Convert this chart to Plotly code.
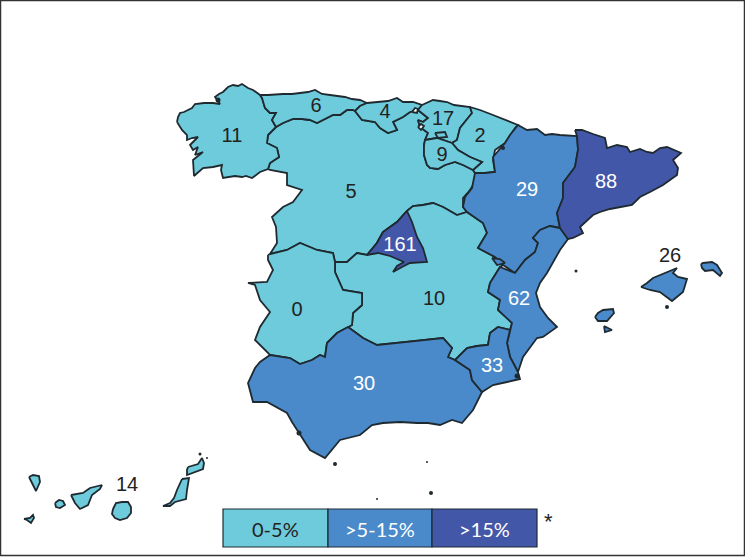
import plotly.graph_objects as go

LIGHT, MID, DARK = "#6ECBDC", "#4A8ACB", "#4357A9"
INK = "#1F2A30"

# Region outlines (x, y in image units)
galicia = [(177,122),(178,117),(180,113),(184,112),(188,110),(192,108),(195,104),(204,103),(213,103),(220,104),(215,97),(219,94),(223,92),(228,87),(233,85),(238,86),(242,84),(248,88),(253,90),(260,95),(262,98),(265,108),(270,113),(276,113),(272,120),(276,127),(268,135),(267,143),(277,148),(279,157),(270,163),(268,169),(260,172),(252,178),(246,176),(242,177),(235,176),(230,177),(223,178),(221,170),(222,165),(213,167),(203,168),(194,176),(193,160),(203,152),(195,155),(198,147),(193,150),(190,145),(198,137),(192,138),(187,140),(187,135),(182,130)]
asturias = [(260,95),(268,95),(283,94),(292,94),(300,93),(308,92),(315,90),(322,94),(330,95),(337,96),(345,97),(352,99),(360,100),(367,103),(360,106),(355,111),(353,110),(347,110),(340,115),(333,115),(327,118),(317,123),(310,120),(302,119),(293,119),(283,123),(276,127),(272,120),(276,113),(270,113),(265,108),(262,98)]
cantabria = [(367,103),(380,102),(388,101),(397,98),(403,102),(413,102),(422,105),(418,110),(410,112),(403,117),(393,122),(397,130),(388,133),(380,128),(375,122),(362,120),(355,111),(360,106)]
basque = [(422,105),(427,103),(433,100),(440,101),(447,102),(454,105),(460,106),(470,107),(472,113),(468,118),(460,128),(457,140),(452,143),(437,138),(425,140),(428,133),(420,127),(418,120),(423,122),(428,118),(418,110)]
navarra = [(470,107),(480,110),(493,115),(505,120),(518,125),(515,128),(510,135),(505,143),(495,150),(493,160),(495,172),(485,173),(475,173),(473,170),(482,162),(470,157),(458,150),(452,143),(457,140),(460,128),(468,118),(472,113)]
rioja = [(425,140),(437,138),(452,143),(458,150),(470,157),(482,162),(473,170),(463,165),(455,162),(445,165),(438,169),(430,168),(427,165),(424,155),(424,145)]
castilla_leon = [(276,127),(283,123),(293,119),(302,119),(310,120),(317,123),(327,118),(333,115),(340,115),(347,110),(353,110),(355,111),(362,120),(375,122),(380,128),(388,133),(397,130),(393,122),(403,117),(410,112),(418,110),(428,118),(423,122),(418,120),(420,127),(428,133),(425,140),(424,145),(424,155),(427,165),(430,168),(438,169),(445,165),(455,162),(463,165),(473,170),(475,173),(475,182),(470,190),(463,198),(463,207),(467,212),(457,215),(443,207),(433,203),(423,205),(413,206),(407,211),(397,222),(383,232),(377,243),(367,255),(357,253),(347,262),(335,262),(333,253),(317,250),(300,243),(287,250),(270,254),(277,243),(276,227),(272,217),(283,207),(293,202),(302,190),(287,185),(287,173),(270,170),(268,169),(270,163),(279,157),(277,148),(267,143),(268,135)]
madrid = [(407,211),(412,222),(417,237),(423,248),(427,262),(410,263),(402,267),(393,272),(397,266),(404,262),(390,256),(378,253),(367,255),(377,243),(383,232),(397,222)]
aragon = [(518,125),(527,130),(537,129),(545,135),(552,134),(560,135),(577,136),(578,150),(575,167),(563,183),(563,198),(557,213),(560,228),(550,226),(540,230),(533,238),(538,243),(535,252),(525,260),(515,273),(503,265),(495,257),(478,248),(487,233),(483,223),(467,212),(463,207),(465,197),(472,188),(475,173),(485,173),(495,172),(493,157),(505,143),(510,135)]
valencia = [(560,228),(568,239),(560,250),(553,262),(547,273),(540,283),(536,293),(540,307),(548,318),(557,327),(543,337),(537,338),(530,347),(523,357),(518,372),(510,357),(507,343),(510,330),(512,323),(498,310),(500,300),(488,292),(490,283),(500,267),(515,273),(525,260),(535,252),(538,243),(533,238),(540,230),(550,226)]
catalonia = [(575,130),(582,130),(593,134),(605,138),(607,148),(617,145),(627,147),(630,152),(640,149),(647,152),(653,153),(660,148),(667,147),(675,150),(681,153),(673,160),(678,168),(677,175),(663,185),(650,192),(640,197),(632,205),(620,207),(610,209),(600,212),(593,215),(580,227),(583,233),(573,238),(568,239),(560,228),(557,213),(563,198),(563,183),(575,167),(578,150),(577,136)]
extremadura = [(268,255),(270,254),(287,250),(300,243),(317,250),(333,253),(335,262),(335,272),(343,290),(362,293),(362,305),(353,313),(352,325),(348,327),(337,333),(327,343),(325,357),(320,355),(312,360),(300,364),(290,358),(270,355),(255,340),(260,327),(270,312),(260,300),(255,285),(248,283),(267,282),(273,270),(268,260)]
castilla_mancha = [(335,262),(347,262),(357,253),(367,255),(377,243),(383,232),(397,222),(407,211),(413,206),(423,205),(433,203),(443,207),(457,215),(467,212),(483,223),(487,233),(478,248),(495,257),(503,265),(500,267),(490,283),(488,292),(500,300),(498,310),(512,323),(510,330),(498,327),(490,333),(488,345),(477,346),(467,348),(455,360),(448,357),(452,348),(443,338),(427,340),(407,342),(377,345),(363,338),(348,327),(352,325),(353,313),(362,305),(362,293),(343,290),(335,272)]
andalusia = [(348,327),(363,338),(377,345),(407,342),(427,340),(443,338),(452,348),(448,357),(455,360),(470,370),(472,380),(482,392),(473,410),(462,423),(452,420),(440,425),(428,423),(417,423),(400,422),(383,423),(372,425),(360,435),(340,440),(333,448),(325,458),(310,450),(300,435),(292,422),(287,413),(267,402),(253,402),(248,383),(255,368),(260,362),(270,355),(290,358),(300,364),(312,360),(320,355),(325,357),(327,343),(337,333)]
murcia = [(498,327),(510,330),(507,343),(510,357),(518,372),(520,379),(507,382),(493,385),(482,392),(472,380),(470,370),(455,360),(467,348),(477,346),(488,345),(490,333)]
ademuz = [(492,258),(500,259),(505,263),(497,265)]
trevino = [(435,133),(445,132),(447,137),(438,138)]
hole_a = [(412,112),(415,108),(418,109),(417,113)]
hole_b = [(418,127),(421,124),(424,126),(421,130)]
mallorca = [(641,287),(647,283),(653,278),(660,275),(667,272),(677,268),(673,273),(678,277),(687,279),(685,286),(683,292),(672,301),(660,292),(650,290)]
menorca = [(701,264),(703,263),(712,262),(717,265),(722,273),(720,276),(713,270),(705,271),(702,268)]
ibiza = [(595,317),(598,313),(603,310),(613,309),(614,313),(607,321),(598,321)]
formentera = [(604,326),(612,330),(605,332)]
la_palma = [(29,477),(33,475),(39,476),(40,482),(36,491),(32,483)]
gomera = [(55,503),(59,500),(63,501),(65,505),(60,508),(56,507)]
hierro = [(24,519),(30,518),(33,515),(34,518),(31,523),(27,520)]
tenerife = [(71,495),(83,493),(90,488),(102,485),(100,489),(92,495),(88,505),(80,509),(75,503)]
gran_canaria = [(113,509),(116,503),(122,502),(128,502),(131,507),(131,513),(127,518),(120,520),(115,518),(112,514)]
fuerteventura = [(182,479),(189,478),(187,490),(186,499),(175,502),(170,506),(163,506),(170,503),(174,498),(177,490)]
lanzarote = [(188,467),(198,464),(202,458),(204,463),(203,469),(192,473),(187,475),(187,470)]

regions = [
    (castilla_leon, LIGHT), (galicia, LIGHT), (asturias, LIGHT), (cantabria, LIGHT),
    (basque, LIGHT), (navarra, LIGHT), (rioja, LIGHT), (trevino, LIGHT), (castilla_mancha, LIGHT),
    (extremadura, LIGHT), (madrid, DARK), (aragon, MID), (valencia, MID), (ademuz, MID),
    (catalonia, DARK), (andalusia, MID), (murcia, MID), (mallorca, MID),
    (menorca, MID), (ibiza, MID), (formentera, MID), (la_palma, LIGHT), (gomera, LIGHT),
    (hierro, LIGHT), (tenerife, LIGHT), (gran_canaria, LIGHT), (fuerteventura, LIGHT),
    (lanzarote, LIGHT), (hole_a, "white"), (hole_b, "white"),
]

label_text = ["11","6","4","17","2","9","5","29","88","161","26","0","10","62","33","30","14"]
label_x = [232,316,385,443,480,442,351,527,606,400,670,297,434,519,492,364,127]
label_y = [137,107,113,120,137,156,193,191,183,246,257,311,300,300,367,385,486]
label_c = ["#222"]*7 + ["white"]*3 + ["#222"]*3 + ["white"]*3 + ["#222"]

dot_x = [335,427,431,377,576,667,200,207,503,517,299,218]
dot_y = [464,462,493,499,271,307,454,458,148,376,433,100]
dot_s = [4,2,4,2,3,4,3,2,4,5,5,5]

legend_labels = ["0-5%",">5-15%",">15%"]
legend_colors = [LIGHT, MID, DARK]
legend_edges = [223,328,432,537]

fig = go.Figure()
for outline, color in regions:
    fig.add_trace(go.Scatter(
        x=[p[0] for p in outline] + [outline[0][0]],
        y=[p[1] for p in outline] + [outline[0][1]],
        mode="lines", fill="toself", fillcolor=color,
        line=dict(color=INK, width=1.8), hoverinfo="skip", showlegend=False))
fig.add_trace(go.Scatter(x=dot_x, y=dot_y, mode="markers", showlegend=False, hoverinfo="skip",
                         marker=dict(color=INK, size=dot_s, opacity=1, line=dict(width=0))))
fig.add_trace(go.Scatter(x=label_x, y=label_y, text=label_text, mode="text", showlegend=False,
                         hoverinfo="skip",
                         textfont=dict(family="Liberation Sans", size=20, color=label_c)))

for i, name in enumerate(legend_labels):
    fig.add_shape(type="rect", x0=legend_edges[i], x1=legend_edges[i+1], y0=509, y1=547,
                  fillcolor=legend_colors[i], line=dict(color=INK, width=1.2))
    fig.add_annotation(x=(legend_edges[i]+legend_edges[i+1])/2, y=529, text=name, showarrow=False,
                       font=dict(family="Lato", size=20, color="#222" if i == 0 else "white"))
fig.add_annotation(x=548, y=521, text="*", showarrow=False,
                   font=dict(family="Liberation Sans", size=22, color="#222"))
fig.add_shape(type="rect", x0=0.5, x1=744.5, y0=0.5, y1=555.5, line=dict(color="#333", width=1.5))

fig.update_layout(width=745, height=557, margin=dict(l=0, r=0, t=0, b=0),
                  paper_bgcolor="white", plot_bgcolor="white",
                  xaxis=dict(range=[0,745], visible=False),
                  yaxis=dict(range=[557,0], visible=False))
fig.write_html("out.html", config={"displayModeBar": False},
               post_script="document.body.style.margin='0';document.body.style.overflow='hidden';")
